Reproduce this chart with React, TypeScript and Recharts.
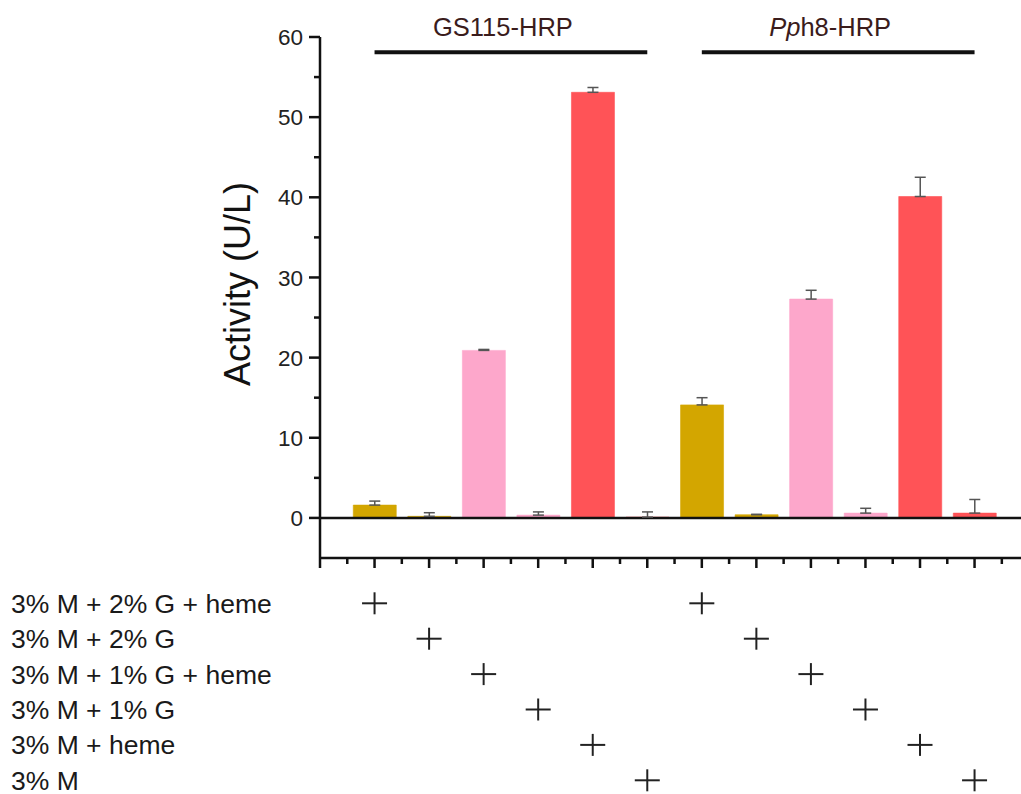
import React from 'react';
import {
  ComposedChart,
  Bar,
  Cell,
  ErrorBar,
  XAxis,
  YAxis,
  ReferenceLine,
  ScatterChart,
  Scatter
} from 'recharts';

const conditions = [
  '3% M + 2% G + heme',
  '3% M + 2% G',
  '3% M + 1% G + heme',
  '3% M + 1% G',
  '3% M + heme',
  '3% M'
];
const strains = ['GS115-HRP', 'Pph8-HRP'];
const gs115Activity = [1.6, 0.2, 20.9, 0.35, 53.1, 0.1];
const gs115Error = [0.5, 0.45, 0.12, 0.4, 0.6, 0.65];
const pph8Activity = [14.1, 0.4, 27.3, 0.6, 40.1, 0.6];
const pph8Error = [0.9, 0.05, 1.1, 0.6, 2.4, 1.7];
const conditionColors = ['#D3A600', '#D3A600', '#FDA7CB', '#FDA7CB', '#FF5357', '#FF5357'];
const yTicks = [0, 5, 10, 15, 20, 25, 30, 35, 40, 45, 50, 55, 60];
const xTicks = [0, 0.5, 1, 1.5, 2, 2.5, 3, 3.5, 4, 4.5, 5, 5.5, 6, 6.5, 7, 7.5, 8, 8.5, 9, 9.5, 10, 10.5, 11, 11.5, 12, 12.5, 13];
const rowTicks = [0, 1, 2, 3, 4, 5];

const FONT = '"Liberation Sans", Arial, Helvetica, sans-serif';
const AXIS = '#111';

const barData = [
  ...gs115Activity.map((v, i) => ({ pos: i + 1, activity: v, err: gs115Error[i], row: i, color: conditionColors[i] })),
  ...pph8Activity.map((v, i) => ({ pos: i + 7, activity: v, err: pph8Error[i], row: i, color: conditionColors[i] }))
];

const XTick = (props: any) => {
  const { x, y, payload } = props;
  const major = Number.isInteger(payload.value);
  return <line x1={x} x2={x} y1={y} y2={y + (major ? 10 : 6)} stroke={AXIS} strokeWidth={2.5} />;
};

const YTick = (props: any) => {
  const { x, y, payload } = props;
  const major = payload.value % 10 === 0;
  return (
    <g>
      <line x1={x - (major ? 11 : 6)} x2={x} y1={y} y2={y} stroke={AXIS} strokeWidth={2.5} />
      {major && (
        <text x={x - 17} y={y} dy="0.36em" textAnchor="end" fontSize={22.5} fill="#222">
          {payload.value}
        </text>
      )}
    </g>
  );
};

const StrainLabel = (props: any) => {
  const { viewBox, name } = props;
  const cx = viewBox.x + viewBox.width / 2 - 8;
  const y = viewBox.y - 16;
  return (
    <text x={cx} y={y} textAnchor="middle" fontSize={25.5} fill="#3a1c1c">
      {name.startsWith('Pph8') ? (
        <>
          <tspan fontStyle="italic">Pp</tspan>
          <tspan>{name.slice(2)}</tspan>
        </>
      ) : name}
    </text>
  );
};

const RowLabel = (props: any) => {
  const { y, payload } = props;
  return (
    <text x={11} y={y} dy="0.36em" textAnchor="start" fontSize={26.5} fill="#1a1a1a">
      {conditions[payload.value]}
    </text>
  );
};

const Plus = (props: any) => {
  const { cx, cy } = props;
  return (
    <g>
      <line x1={cx - 12.5} x2={cx + 12.5} y1={cy} y2={cy} stroke="#222" strokeWidth={2} />
      <line x1={cx} x2={cx} y1={cy - 11} y2={cy + 11} stroke="#222" strokeWidth={2} />
    </g>
  );
};

const App = () => {
  const bracketY = 58.1;
  return (
    <div style={{ position: 'absolute', left: 0, top: 0, width: 1021, height: 794, overflow: 'hidden', background: '#fff', fontFamily: FONT }}>
      <div style={{ position: 'absolute', left: 0, top: 0 }}>
        <ComposedChart width={1040} height={580} data={barData} margin={{ top: 37, right: 10.9, bottom: 0, left: 0 }}>
          <XAxis
            type="number"
            dataKey="pos"
            domain={[0, 13]}
            ticks={xTicks}
            interval={0}
            height={22}
            tickSize={0}
            tickMargin={0}
            tick={<XTick />}
            tickLine={false}
            axisLine={{ stroke: AXIS, strokeWidth: 2.5 }}
          />
          <YAxis
            type="number"
            domain={[-5, 60]}
            ticks={yTicks}
            interval={0}
            width={320}
            tickSize={0}
            tickMargin={0}
            tick={<YTick />}
            tickLine={false}
            axisLine={{ stroke: AXIS, strokeWidth: 2.5 }}
            label={(p: any) => (
              <text
                x={p.viewBox.x + p.viewBox.width - 70}
                y={p.viewBox.y + 247}
                transform={`rotate(-90, ${p.viewBox.x + p.viewBox.width - 70}, ${p.viewBox.y + 247})`}
                textAnchor="middle"
                fontSize={36}
                fill="#111"
              >
                Activity (U/L)
              </text>
            )}
          />
          <ReferenceLine y={0} stroke={AXIS} strokeWidth={2.5} />
          <ReferenceLine
            segment={[{ x: 1, y: bracketY }, { x: 6, y: bracketY }]}
            stroke="#111"
            strokeWidth={4}
            label={(p: any) => <StrainLabel {...p} name={strains[0]} />}
          />
          <ReferenceLine
            segment={[{ x: 7, y: bracketY }, { x: 12, y: bracketY }]}
            stroke="#111"
            strokeWidth={4}
            label={(p: any) => <StrainLabel {...p} name={strains[1]} />}
          />
          <Bar dataKey="activity" barSize={43} isAnimationActive={false}>
            {barData.map((d, i) => (
              <Cell key={i} fill={d.color} stroke={d.color} strokeOpacity={0.6} strokeWidth={1} />
            ))}
            <ErrorBar dataKey={(d: any) => [0, d.err]} direction="y" width={5.5} stroke="#555" strokeWidth={1.5} />
          </Bar>
        </ComposedChart>
      </div>
      <div style={{ position: 'absolute', left: 0, top: 558 }}>
        <ScatterChart width={1040} height={234} margin={{ top: 45.3, right: 10.9, bottom: 11.7, left: 0 }}>
          <XAxis type="number" dataKey="pos" domain={[0, 13]} hide />
          <YAxis
            type="number"
            dataKey="row"
            domain={[0, 5]}
            reversed
            ticks={rowTicks}
            interval={0}
            width={320}
            axisLine={false}
            tickLine={false}
            tick={<RowLabel />}
          />
          <Scatter data={barData} shape={(p: any) => <Plus cx={p.cx} cy={p.cy} />} isAnimationActive={false} />
        </ScatterChart>
      </div>
    </div>
  );
};

export default App;
